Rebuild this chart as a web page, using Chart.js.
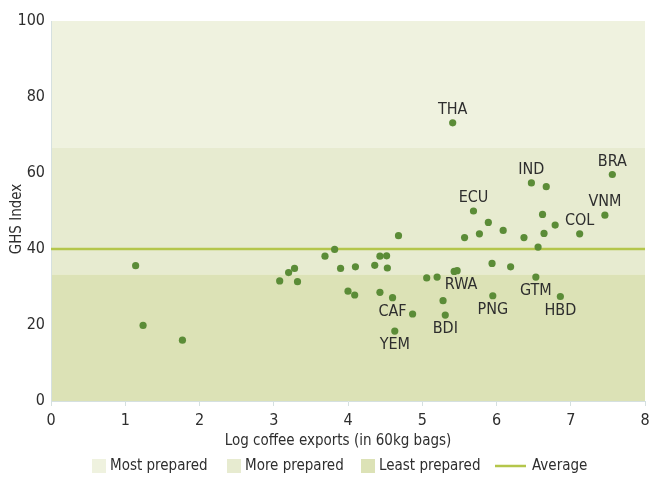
<!DOCTYPE html>
<html>
<head>
<meta charset="utf-8">
<title>GHS Index vs coffee exports</title>
<script src="https://cdn.jsdelivr.net/npm/chart.js@4.4.1/dist/chart.umd.min.js"></script>
<style>
  html, body { margin: 0; padding: 0; background: #fff; }
</style>
</head>
<body>
<canvas id="chart" width="650" height="477"></canvas>
<script>
// log10 of coffee exports per country, and its GHS Index score
const exportsLog = [
  1.14, 1.24, 1.77, 3.08, 3.20, 3.28, 3.32, 3.69, 3.82, 3.90,
  4.00, 4.10, 4.09, 4.36, 4.43, 4.43, 4.52, 4.53, 4.60, 4.63,
  4.68, 4.87, 5.06, 5.20, 5.28, 5.31, 5.43, 5.47, 5.41, 5.57,
  5.69, 5.77, 5.89, 5.94, 5.95, 6.09, 6.19, 6.37, 6.47, 6.53,
  6.56, 6.62, 6.64, 6.67, 6.79, 6.86, 7.12, 7.46, 7.56
]
const ghsIndex = [
  35.6, 19.9, 16.0, 31.6, 33.8, 34.9, 31.4, 38.1, 39.9, 34.9,
  28.9, 35.3, 27.9, 35.7, 38.1, 28.6, 38.2, 35.0, 27.2, 18.4,
  43.5, 22.9, 32.4, 32.6, 26.4, 22.6, 34.1, 34.3, 73.2, 43.0,
  50.0, 44.0, 47.0, 36.2, 27.7, 44.9, 35.3, 43.0, 57.4, 32.6,
  40.5, 49.1, 44.1, 56.4, 46.3, 27.5, 44.0, 48.9, 59.6
]
const countryCode = [
  '', '', '', '', '', '', '', '', '', '',
  '', '', '', '', '', '', '', '', 'CAF', 'YEM',
  '', '', '', '', '', 'BDI', '', 'RWA', 'THA', '',
  'ECU', '', '', '', 'PNG', '', '', '', 'IND', 'GTM',
  '', '', '', '', '', 'HBD', 'COL', 'VNM', 'BRA'
]

// preparedness bands on the GHS scale
const bandNames = ['Most prepared', 'More prepared', 'Least prepared']
const bandFrom = [66.7, 33.3, 0]
const bandTo = [100, 66.7, 33.3]
const averageGhs = 40

const xTicks = [0, 1, 2, 3, 4, 5, 6, 7, 8]
const yTicks = [0, 20, 40, 60, 80, 100]
const xTitle = 'Log coffee exports (in 60kg bags)'
const yTitle = 'GHS Index'

const fontFamily = "'DejaVu Sans Condensed', 'Liberation Sans Narrow', sans-serif"
const bandColors = ['#eff2df', '#e7ebd0', '#dce2b6']
const averageColor = '#b4c64b'
const pointColor = '#5b8c37'
const textColor = '#2e2e2e'
const axisColor = '#d5e0e0'

const labelBelow = ['CAF', 'YEM', 'BDI', 'RWA', 'PNG', 'GTM', 'HBD']
const labelNudge = { RWA: 4 }

const bandPlugin = {
  id: 'bands',
  beforeDraw(chart) {
    const { ctx, chartArea, scales: { y } } = chart
    ctx.save()
    bandNames.forEach((name, i) => {
      const top = y.getPixelForValue(bandTo[i])
      const bottom = y.getPixelForValue(bandFrom[i])
      ctx.fillStyle = bandColors[i]
      ctx.fillRect(chartArea.left, top, chartArea.right - chartArea.left, bottom - top)
    })
    ctx.restore()
  }
}

const codeLabels = {
  id: 'codeLabels',
  afterDatasetsDraw(chart) {
    const { ctx, scales: { x, y } } = chart
    ctx.save()
    ctx.font = '16px ' + fontFamily
    ctx.fillStyle = textColor
    ctx.textAlign = 'center'
    ctx.textBaseline = 'middle'
    countryCode.forEach((code, i) => {
      if (!code) return
      const px = x.getPixelForValue(exportsLog[i]) + (labelNudge[code] || 0)
      const py = y.getPixelForValue(ghsIndex[i])
      ctx.fillText(code, px, py + (labelBelow.includes(code) ? 14 : -13))
    })
    ctx.restore()
  }
}

// axis titles and the legend row underneath
const captions = {
  id: 'captions',
  afterDraw(chart) {
    const { ctx } = chart
    ctx.save()
    ctx.fillStyle = textColor
    ctx.textBaseline = 'middle'
    ctx.textAlign = 'center'
    ctx.font = '15px ' + fontFamily
    ctx.fillText(xTitle, 338, 441)
    ctx.save()
    ctx.translate(17, 219)
    ctx.rotate(-Math.PI / 2)
    ctx.fillText(yTitle, 0, 0)
    ctx.restore()

    const cy = 466
    const items = [
      { text: bandNames[0], color: bandColors[0], at: 92 },
      { text: bandNames[1], color: bandColors[1], at: 227 },
      { text: bandNames[2], color: bandColors[2], at: 361 },
      { text: 'Average', color: averageColor, at: 495, line: true }
    ]
    ctx.font = '15px ' + fontFamily
    ctx.textAlign = 'left'
    items.forEach(item => {
      if (item.line) {
        ctx.strokeStyle = item.color
        ctx.lineWidth = 2.5
        ctx.beginPath()
        ctx.moveTo(item.at, cy)
        ctx.lineTo(item.at + 31, cy)
        ctx.stroke()
        ctx.fillStyle = textColor
        ctx.fillText(item.text, item.at + 37, cy)
      } else {
        ctx.fillStyle = item.color
        ctx.fillRect(item.at, cy - 7, 14, 14)
        ctx.fillStyle = textColor
        ctx.fillText(item.text, item.at + 18, cy)
      }
    })
    ctx.restore()
  }
}

const points = exportsLog.map((v, i) => ({ x: v, y: ghsIndex[i] }))

new Chart(document.getElementById('chart'), {
  type: 'scatter',
  data: {
    datasets: [
      {
        label: 'Countries',
        data: points,
        backgroundColor: pointColor,
        borderWidth: 0,
        pointRadius: 3.6,
        order: 0
      },
      {
        label: 'Average',
        type: 'line',
        data: [{ x: xTicks[0], y: averageGhs }, { x: xTicks[xTicks.length - 1], y: averageGhs }],
        borderColor: averageColor,
        borderWidth: 2.5,
        pointRadius: 0,
        order: 1
      }
    ]
  },
  options: {
    responsive: false,
    animation: false,
    layout: { padding: { top: 21, right: 5, bottom: 26, left: 0 } },
    plugins: {
      legend: { display: false },
      tooltip: { enabled: false }
    },
    scales: {
      x: {
        type: 'linear',
        min: 0,
        max: 8,
        afterBuildTicks: scale => { scale.ticks = xTicks.map(v => ({ value: v })) },
        afterFit: scale => {
          scale.height = 50
          scale.paddingRight = 5
        },
        grid: { display: true, drawOnChartArea: false, tickLength: 5, tickColor: axisColor },
        border: { color: axisColor },
        ticks: { padding: 5, color: textColor, font: { family: fontFamily, size: 16 } }
      },
      y: {
        min: 0,
        max: 100,
        afterBuildTicks: scale => { scale.ticks = yTicks.map(v => ({ value: v })) },
        afterFit: scale => { scale.width = 51 },
        grid: { display: false, drawTicks: false },
        border: { color: axisColor },
        ticks: { padding: 6, color: textColor, font: { family: fontFamily, size: 16 } }
      }
    }
  },
  plugins: [bandPlugin, codeLabels, captions]
})
</script>
</body>
</html>
